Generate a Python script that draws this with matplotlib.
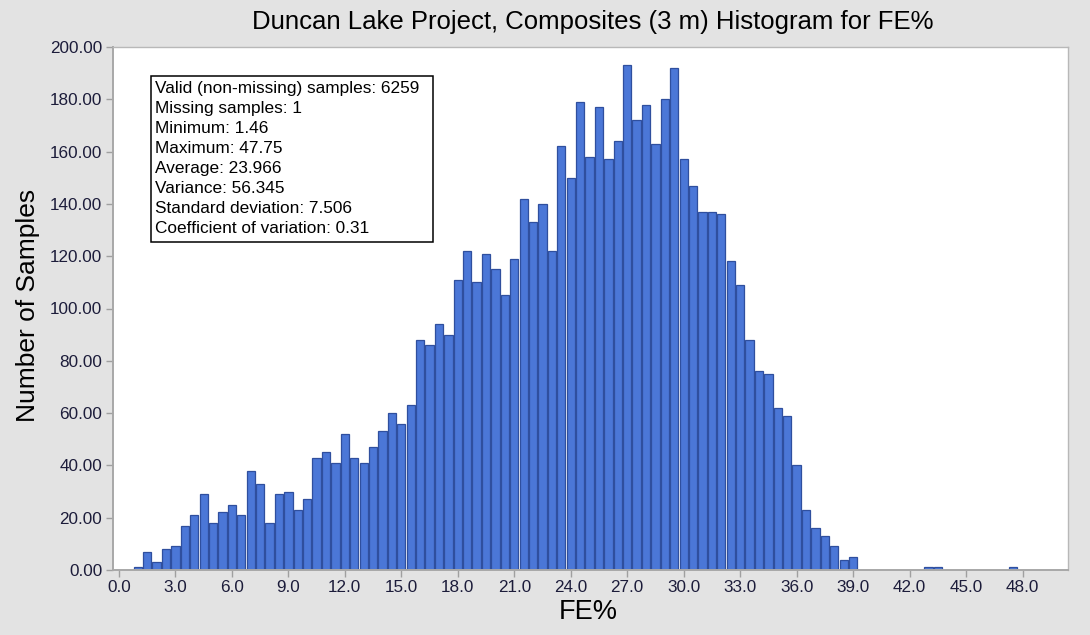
import numpy as np
import matplotlib
matplotlib.use("Agg")
import matplotlib.pyplot as plt
from matplotlib.patches import Rectangle

# FE% bin centres (0.5 wide bins) and sample counts
bin_centers = [1.0, 1.5, 2.0, 2.5, 3.0, 3.5, 4.0, 4.5, 5.0, 5.5,
               6.0, 6.5, 7.0, 7.5, 8.0, 8.5, 9.0, 9.5, 10.0, 10.5,
               11.0, 11.5, 12.0, 12.5, 13.0, 13.5, 14.0, 14.5, 15.0, 15.5,
               16.0, 16.5, 17.0, 17.5, 18.0, 18.5, 19.0, 19.5, 20.0, 20.5,
               21.0, 21.5, 22.0, 22.5, 23.0, 23.5, 24.0, 24.5, 25.0, 25.5,
               26.0, 26.5, 27.0, 27.5, 28.0, 28.5, 29.0, 29.5, 30.0, 30.5,
               31.0, 31.5, 32.0, 32.5, 33.0, 33.5, 34.0, 34.5, 35.0, 35.5,
               36.0, 36.5, 37.0, 37.5, 38.0, 38.5, 39.0, 43.0, 43.5, 47.5]
counts = [1, 7, 3, 8, 9, 17, 21, 29, 18, 22,
          25, 21, 38, 33, 18, 29, 30, 23, 27, 43,
          45, 41, 52, 43, 41, 47, 53, 60, 56, 63,
          88, 86, 94, 90, 111, 122, 110, 121, 115, 105,
          119, 142, 133, 140, 122, 162, 150, 179, 158, 177,
          157, 164, 193, 172, 178, 163, 180, 192, 157, 147,
          137, 137, 136, 118, 109, 88, 76, 75, 62, 59,
          40, 23, 16, 13, 9, 4, 5, 1, 1, 1]

x_ticks = [0.0, 3.0, 6.0, 9.0, 12.0, 15.0, 18.0, 21.0, 24.0, 27.0,
           30.0, 33.0, 36.0, 39.0, 42.0, 45.0, 48.0]
y_ticks = [0, 20, 40, 60, 80, 100, 120, 140, 160, 180, 200]

stats_lines = ["Valid (non-missing) samples: 6259",
               "Missing samples: 1",
               "Minimum: 1.46",
               "Maximum: 47.75",
               "Average: 23.966",
               "Variance: 56.345",
               "Standard deviation: 7.506",
               "Coefficient of variation: 0.31"]

plt.rcParams['font.family'] = ['Liberation Sans', 'DejaVu Sans']

W, H = 1090, 635
fig = plt.figure(figsize=(W / 100, H / 100), dpi=100, facecolor='#e3e3e3')
ax = fig.add_axes([113.3 / W, 1 - 570 / H, (1067.7 - 113.3) / W, (570 - 47) / H])
ax.set_facecolor('white')

ax.bar(bin_centers, counts, width=0.44, color='#4b77d7',
       edgecolor='#2f4f9e', linewidth=0.9, zorder=2)

ax.set_xlim(-0.3, 50.4)
ax.set_ylim(0, 200)
ax.set_xticks(x_ticks)
ax.set_xticklabels([f"{t:.1f}" for t in x_ticks])
ax.set_yticks(y_ticks)
ax.set_yticklabels([f"{t:.2f}" for t in y_ticks])
ax.tick_params(axis='both', colors='#a0a0a0', labelcolor='#1c1c3a',
               labelsize=12.3, length=5, width=1, direction='out')
ax.tick_params(axis='y', pad=3)
ax.tick_params(axis='x', pad=2)

for side in ['left', 'bottom']:
    ax.spines[side].set_color('#a8a8a8')
    ax.spines[side].set_linewidth(1.4)
for side in ['top', 'right']:
    ax.spines[side].set_color('#b8b8b8')
    ax.spines[side].set_linewidth(1.0)

fig.text(593 / W, 1 - 22 / H,
         "Duncan Lake Project, Composites (3 m) Histogram for FE%",
         ha='center', va='center', fontsize=18.5, color='black')
fig.text(28 / W, 1 - 305 / H, "Number of Samples", rotation=90,
         ha='center', va='center', fontsize=19, color='black')
fig.text(588 / W, 1 - 612 / H, "FE%", ha='center', va='center',
         fontsize=19.5, color='black')

# statistics box
fig.add_artist(Rectangle((151 / W, 1 - 242 / H), (433 - 151) / W, (242 - 76) / H,
                         transform=fig.transFigure, facecolor='white',
                         edgecolor='black', linewidth=1.1))
fig.text(155 / W, 1 - 81 / H, "\n".join(stats_lines), ha='left', va='top',
         fontsize=12.4, linespacing=1.42, color='black')

fig.savefig("out.png", dpi=100, facecolor=fig.get_facecolor())
